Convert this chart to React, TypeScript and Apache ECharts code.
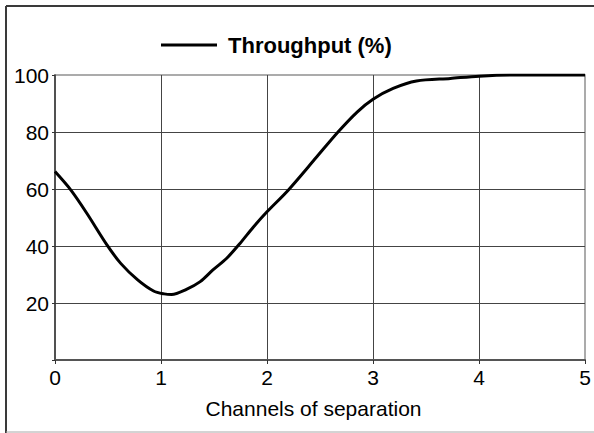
import React, { useEffect, useRef } from "react";
import * as echarts from "echarts";

const seriesName = "Throughput (%)";
const xTitle = "Channels of separation";
const channels = [0, 0.15, 0.3, 0.49, 0.62, 0.78, 0.93, 1.03, 1.1, 1.24, 1.37, 1.49, 1.62, 1.745, 1.87, 2.0, 2.2, 2.47, 2.67, 2.85, 3.0, 3.19, 3.41, 3.73, 4.0, 4.3, 5.0];
const throughput = [66.1, 59.6, 51.5, 40.4, 33.9, 28.1, 24.2, 23.2, 23.0, 24.8, 27.5, 31.6, 35.7, 40.9, 46.6, 52, 59.6, 71.3, 80, 87, 91.5, 95.3, 97.9, 98.8, 99.6, 100, 100];
const xTicks = { min: 0, max: 5, interval: 1 };
const yTicks = { min: 0, max: 100, interval: 20 };

export default function App() {
  const ref = useRef<HTMLDivElement>(null);
  useEffect(() => {
    if (!ref.current) return;
    const chart = echarts.init(ref.current, null, { renderer: "svg" });
    const font = "'Liberation Sans', Arial, sans-serif";
    chart.setOption({
      animation: false,
      backgroundColor: "#ffffff",
      textStyle: { fontFamily: font },
      legend: {
        data: [seriesName],
        left: 156,
        top: 29,
        icon: "rect",
        itemWidth: 56,
        itemHeight: 3,
        itemStyle: { color: "#000" },
        textStyle: { fontFamily: font, fontSize: 22, fontWeight: "bold", color: "#000", padding: [0, 0, 0, 6] },
      },
      grid: {
        left: 55,
        right: 9,
        top: 75,
        bottom: 73,
        show: true,
        borderColor: "#909090",
        borderWidth: 1.5,
        backgroundColor: "#ffffff",
      },
      xAxis: {
        type: "value",
        min: xTicks.min,
        max: xTicks.max,
        interval: xTicks.interval,
        name: xTitle,
        nameLocation: "middle",
        nameGap: 38,
        nameTextStyle: { fontFamily: font, fontSize: 21, color: "#000", padding: [0, 13, 0, 0] },
        axisLine: { show: true, lineStyle: { color: "#555", width: 2 } },
        axisTick: { show: true, length: 4, lineStyle: { color: "#333" } },
        axisLabel: { fontFamily: font, fontSize: 21, color: "#000", margin: 7 },
        splitLine: { show: true, showMinLine: false, showMaxLine: false, lineStyle: { color: "#444", width: 1 } },
      },
      yAxis: {
        type: "value",
        min: yTicks.min,
        max: yTicks.max,
        interval: yTicks.interval,
        axisLine: { show: true, lineStyle: { color: "#333", width: 1.5 } },
        axisTick: { show: true, length: 3, lineStyle: { color: "#333" } },
        axisLabel: {
          fontFamily: font,
          fontSize: 21,
          color: "#000",
          margin: 6,
          formatter: (v: number) => (v === 0 ? "" : String(v)),
        },
        splitLine: { show: true, showMinLine: false, showMaxLine: false, lineStyle: { color: "#444", width: 1 } },
      },
      series: [
        {
          name: seriesName,
          type: "line",
          data: channels.map((c, i) => [c, throughput[i]]),
          smooth: 0.3,
          symbol: "none",
          lineStyle: { color: "#000", width: 3 },
          itemStyle: { color: "#000" },
        },
      ],
      graphic: [
        { type: "line", shape: { x1: 6, y1: 6, x2: 594, y2: 6 }, style: { stroke: "#3a3a3a", lineWidth: 2 } },
        { type: "line", shape: { x1: 6, y1: 6, x2: 6, y2: 433 }, style: { stroke: "#3a3a3a", lineWidth: 2 } },
        { type: "line", shape: { x1: 6, y1: 432, x2: 594, y2: 432 }, style: { stroke: "#a8a8a8", lineWidth: 1 } },
      ],
    });
    return () => chart.dispose();
  }, []);
  return <div ref={ref} style={{ position: "absolute", left: 0, top: 0, width: 594, height: 433 }} />;
}
